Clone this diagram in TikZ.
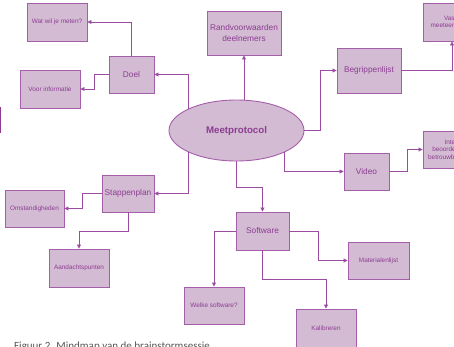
\documentclass[tikz,border=0pt]{standalone}
\usepackage{fontspec}
\setmainfont{Liberation Sans}
\newfontfamily\capfont{Carlito}
\usetikzlibrary{arrows.meta,shapes.geometric}
\definecolor{mauve}{RGB}{211,187,211}
\definecolor{paars}{RGB}{165,95,170}
\definecolor{inkt}{RGB}{140,60,145}
\definecolor{lijn}{RGB}{155,75,160}
\definecolor{grijs}{RGB}{85,85,85}
\begin{document}
\begin{tikzpicture}[x=1pt,y=-1pt]
		\tikzset{kader/.style={draw=paars, fill=mauve, line width=0.9pt, text=inkt, inner sep=1pt, align=center, font=\fontsize{8.3}{10.5}\selectfont},
		klein/.style={kader, font=\fontsize{6.4}{7.4}\selectfont},
		pijl/.style={draw=lijn, line width=0.8pt, -{Triangle[length=4pt,width=4pt]}}}
		\useasboundingbox (0,0) rectangle (454,347);
		\clip (0,0) rectangle (454,347);

		\node[kader, ellipse, minimum width=135pt, minimum height=61pt, font=\fontsize{9.7}{11}\selectfont\bfseries] (proto) at (236.5,130.5) {Meetprotocol};

		\node[kader, minimum width=45pt, minimum height=37pt] (doel) at (131.5,74.5) {Doel};
		\node[klein, minimum width=60pt, minimum height=38pt] (wat) at (57,22) {Wat wil je meten?};
		\node[klein, minimum width=60pt, minimum height=38pt] (voor) at (50,89) {Voor informatie};
		\node[kader, minimum width=74pt, minimum height=44pt] (rand) at (244,33) {Randvoorwaarden\\deelnemers};
		\node[kader, minimum width=64pt, minimum height=45pt] (begr) at (369,70.5) {Begrippenlijst};
		\node[klein, minimum width=58pt, minimum height=38pt] (vast) at (452,22) {Vaste\\meeteenheden};
		\node[kader, minimum width=45pt, minimum height=37pt] (video) at (366.5,171.5) {Video};
		\node[klein, minimum width=58pt, minimum height=37pt] (inter) at (452,149.5) {Inter-\\beoordelaars-\\betrouwbaarheid};
		\node[kader, minimum width=52pt, minimum height=37pt] (stap) at (128,193.5) {Stappenplan};
		\node[klein, minimum width=59pt, minimum height=37pt] (omst) at (34.5,208.5) {Omstandigheden};
		\node[klein, minimum width=60pt, minimum height=38pt] (aand) at (79,268) {Aandachtspunten};
		\node[kader, minimum width=53pt, minimum height=38pt] (soft) at (262.5,231) {Software};
		\node[klein, minimum width=60pt, minimum height=37pt] (welke) at (214,305.5) {Welke software?};
		\node[klein, minimum width=61pt, minimum height=37pt] (mat) at (378.5,260.5) {Materialenlijst};
		\node[klein, minimum width=60pt, minimum height=38pt] (kal) at (326,328) {Kalibreren};

    \draw[pijl] (proto.north west) |- (doel.east);
    \draw[pijl] (doel.north) |- (wat.east);
    \draw[pijl] (doel.west) -- ++(-14,0) |- (voor.east);
    \draw[pijl] (proto.north -| rand.south) -- (rand.south);
    \draw[pijl] (proto.east) -- ++(16,0) |- (begr.west);
    \draw[pijl] (begr.east) -| (vast.south);
    \draw[pijl] (proto.south east) |- (video.west);
    \draw[pijl] (video.east) -- ++(18,0) |- (inter.west);
    \draw[pijl] (proto.south west) |- (stap.east);
    \draw[pijl] (proto.south) -- ++(0,26) -| (soft.north);
    \draw[pijl] (stap.west) -- ++(-19,0) |- (omst.east);
    \draw[pijl] (stap.south) -- ++(0,19) -| (aand.north);
    \draw[pijl] (soft.west) -| (welke.north);
    \draw[pijl] (soft.east) -- ++(29,0) |- (mat.west);
    \draw[pijl] (soft.south) -- ++(0,29) -| (kal.north);

		\draw[inkt, line width=1pt] (0.5,107) -- (0.5,133);
		\node[anchor=base west, inner sep=0pt, text=grijs, font=\capfont\fontsize{11}{13}\selectfont] (bijschrift) at (14,349.5) {Figuur 2. Mindmap van de brainstormsessie};
		\end{tikzpicture}
\end{document}
